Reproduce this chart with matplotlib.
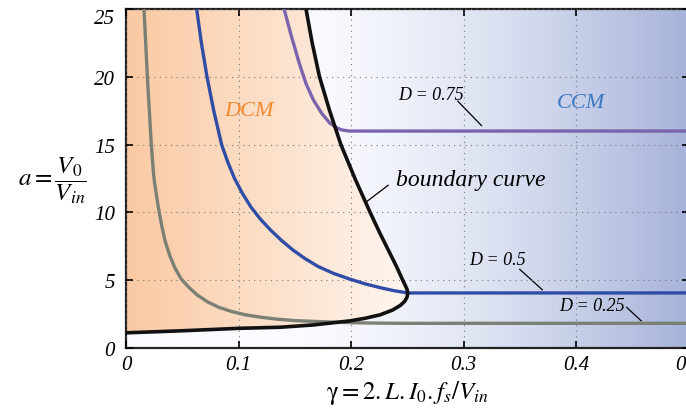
import numpy as np
import matplotlib.pyplot as plt
from matplotlib.patches import Polygon

plt.rcParams['font.family'] = ['Liberation Serif', 'DejaVu Serif']
plt.rcParams['mathtext.fontset'] = 'stix'

# boundary curve (gamma, a)
bnd_g = [0.000, 0.050, 0.100, 0.137, 0.1665, 0.183, 0.199, 0.213, 0.226, 0.237, 0.2440, 0.2478, 0.2498, 0.2505,
         0.2497, 0.2483, 0.2460, 0.2405, 0.2345, 0.2255, 0.2170, 0.2035, 0.1910, 0.1810, 0.1720, 0.1655, 0.1600]
bnd_a = [1.12, 1.27, 1.45, 1.53, 1.70, 1.85, 2.00, 2.20, 2.45, 2.80, 3.15, 3.45, 3.75, 4.06,
         4.35, 4.60, 5.00, 6.00, 7.00, 8.50, 10.0, 12.5, 15.0, 17.5, 20.0, 22.5, 25.0]

# D = 0.75
d75_g = [0.1405, 0.1470, 0.1540, 0.1600, 0.1665, 0.1740, 0.1810, 0.1870, 0.1920, 0.1980, 0.5]
d75_a = [25.0, 23.0, 21.0, 19.5, 18.3, 17.3, 16.6, 16.25, 16.08, 16.0, 16.0]

# D = 0.5
d50_g = [0.0628, 0.0670, 0.0720, 0.0780, 0.0850, 0.0905, 0.0965, 0.1035, 0.1110, 0.1195, 0.1285,
         0.1380, 0.1480, 0.1590, 0.1710, 0.1845, 0.1990, 0.2130, 0.2260, 0.2380, 0.2504, 0.5]
d50_a = [25.0, 22.5, 20.0, 17.5, 15.0, 13.7, 12.5, 11.4, 10.4, 9.5, 8.7,
         7.95, 7.25, 6.6, 6.0, 5.5, 5.08, 4.72, 4.45, 4.23, 4.06, 4.06]

# D = 0.25
d25_g = [0.0160, 0.0190, 0.0225, 0.0243, 0.0252, 0.0285, 0.0318, 0.0347, 0.0390, 0.0435, 0.0490,
         0.0555, 0.0635, 0.0725, 0.0825, 0.0935, 0.1060, 0.1200, 0.1350, 0.1500, 0.1650, 0.1800,
         0.1950, 0.2100, 0.2300, 0.2500, 0.5]
d25_a = [25.0, 20.0, 15.0, 13.0, 12.3, 10.5, 9.0, 7.9, 6.8, 5.9, 5.1,
         4.5, 3.9, 3.4, 3.0, 2.7, 2.45, 2.27, 2.12, 2.02, 1.97, 1.92,
         1.88, 1.85, 1.83, 1.82, 1.82]

xticks = [0, 0.1, 0.2, 0.3, 0.4, 0.5]
xticklabels = ['0', '0.1', '0.2', '0.3', '0.4', '0.5']
yticks = [0, 5, 10, 15, 20, 25]

fig = plt.figure(figsize=(6.86, 4.10), dpi=100)
ax = fig.add_axes([126/686, 61/410, 562.5/686, 339/410])
ax.set_xlim(0, 0.5)
ax.set_ylim(0, 25)

# background: blue gradient towards CCM side
xs = np.linspace(0, 1, 400)
t = np.clip((xs - 0.30) / 0.70, 0, 1) ** 1.5
white = np.array([0.98, 0.985, 1.0])
blue = np.array([0.65, 0.70, 0.85])
img = white[None, :] * (1 - t[:, None]) + blue[None, :] * t[:, None]
ax.imshow(img[None, :, :], extent=[0, 0.5, 0, 25], aspect='auto', zorder=0)

# orange gradient inside DCM region
to = np.clip(xs / 0.52, 0, 1)
orange = np.array([0.98, 0.79, 0.64])
white2 = np.array([1.0, 0.97, 0.95])
img2 = orange[None, :] * (1 - to[:, None]) + white2[None, :] * to[:, None]
im2 = ax.imshow(img2[None, :, :], extent=[0, 0.5, 0, 25], aspect='auto', zorder=0.5)
poly = Polygon(list(zip(bnd_g, bnd_a)) + [(0, 25)], closed=True, transform=ax.transData,
               facecolor='none', edgecolor='none')
ax.add_patch(poly)
im2.set_clip_path(poly)

ax.grid(True, linestyle=(0, (1, 4)), color='#777777', linewidth=0.8)
ax.set_axisbelow(False)

ax.plot(d25_g, d25_a, color='#7b8075', lw=2.4, solid_capstyle='butt', solid_joinstyle='round', zorder=3)
ax.plot(d50_g, d50_a, color='#2f4da6', lw=2.4, solid_capstyle='butt', solid_joinstyle='round', zorder=3)
ax.plot(d75_g, d75_a, color='#7a64ad', lw=2.4, solid_capstyle='butt', solid_joinstyle='round', zorder=3)
ax.plot(bnd_g, bnd_a, color='#111111', lw=2.6, solid_joinstyle='round', zorder=4)

# labels
ax.text(0.109, 17.5, 'DCM', color='#f5892e', ha='center', va='center', fontstyle='italic', fontsize=16)
ax.text(0.404, 18.1, 'CCM', color='#3b78c4', ha='center', va='center', fontstyle='italic', fontsize=16)
ax.text(0.306, 12.4, 'boundary curve', color='black', ha='center', va='center', fontstyle='italic', fontsize=17)
ax.plot([0.233, 0.214], [12.0, 10.8], color='black', lw=0.9)
ax.text(0.242, 18.7, 'D = 0.75', ha='left', va='center', fontstyle='italic', fontsize=13)
ax.plot([0.295, 0.316], [18.2, 16.4], color='black', lw=0.9)
ax.text(0.305, 6.55, 'D = 0.5', ha='left', va='center', fontstyle='italic', fontsize=13)
ax.plot([0.350, 0.370], [5.8, 4.3], color='black', lw=0.9)
ax.text(0.385, 3.1, 'D = 0.25', ha='left', va='center', fontstyle='italic', fontsize=13)
ax.plot([0.445, 0.458], [3.0, 2.0], color='black', lw=0.9)

ax.set_xticks(xticks)
ax.set_xticklabels(xticklabels)
ax.set_yticks(yticks)
ax.tick_params(direction='in', length=5, width=1.2, top=True, right=True, labelsize=15, pad=8)
ax.tick_params(axis='x', pad=5)
for lab in ax.get_xticklabels() + ax.get_yticklabels():
    lab.set_fontstyle('italic')
ax.get_yticklabels()[-1].set_va('top')
for sp in ax.spines.values():
    sp.set_linewidth(1.6)
    sp.set_color('#222222')

ax.set_xlabel(r'$\mathrm{\gamma} = 2.L.I_0.f_s/V_{in}$', fontsize=18, labelpad=3)
fig.text(52/686, 0.56, r'$a=\dfrac{V_0}{V_{in}}$', fontsize=18, ha='center', va='center')

fig.savefig('out.png', dpi=100)
